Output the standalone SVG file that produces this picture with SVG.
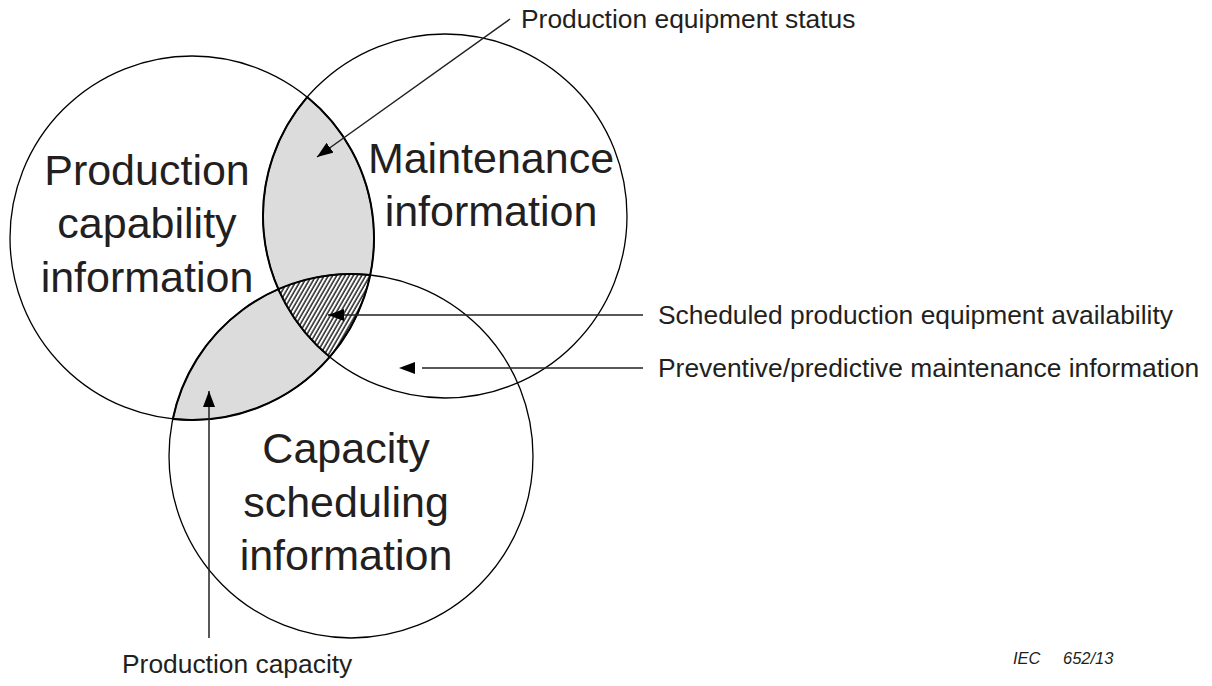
<svg xmlns="http://www.w3.org/2000/svg" width="1212" height="686" viewBox="0 0 1212 686">
<style>
.big{font-family:"Liberation Sans",Arial,sans-serif;font-size:43px;fill:#231f20;text-anchor:middle}
.lbl{font-family:"Liberation Sans",Arial,sans-serif;font-size:26.4px;fill:#231f20}
.iec{font-family:"Liberation Sans",Arial,sans-serif;font-size:16.5px;font-style:italic;fill:#231f20}
.circ{fill:none;stroke:#000;stroke-width:1.3}
.edge{fill:none;stroke:#000;stroke-width:2}
.con{fill:none;stroke:#231f20;stroke-width:1.5}
</style>
<defs>
<pattern id="hatch" patternUnits="userSpaceOnUse" width="3.6" height="10" patternTransform="rotate(30)">
<line x1="1" y1="0" x2="1" y2="10" stroke="#000" stroke-width="1.3"/>
</pattern>
<marker id="ah" markerUnits="userSpaceOnUse" markerWidth="16" markerHeight="12" refX="16" refY="6" orient="auto">
<path d="M0,0 L16,6 L0,12 z" fill="#000"/>
</marker>
</defs>
<g id="regions">
<path id="lens-lm" d="M307.2,97.1 A182,182 0 0,1 370.2,275 A182,182 0 0,0 278.4,289.1 A182,182 0 0,1 307.2,97.1 Z" fill="#dcdcdc"/>
<path id="lens-lb" d="M172.8,419 A182,182 0 0,1 278.4,289.1 A182,182 0 0,0 329.8,356.9 A182,182 0 0,1 172.8,419 Z" fill="#dcdcdc"/>
<path id="triple" d="M278.4,289.1 A182,182 0 0,1 370.2,275 A182,182 0 0,1 329.8,356.9 A182,182 0 0,1 278.4,289.1 Z" fill="url(#hatch)"/>
</g>
<g id="node-production-capability">
<circle class="circ" cx="192" cy="238" r="182"/>
<text class="big" x="147" y="185">Production</text>
<text class="big" x="147" y="238">capability</text>
<text class="big" x="147" y="292">information</text>
</g>
<g id="node-maintenance">
<circle class="circ" cx="445" cy="216" r="182"/>
<text class="big" x="491" y="173">Maintenance</text>
<text class="big" x="491" y="226">information</text>
</g>
<g id="node-capacity-scheduling">
<circle class="circ" cx="351" cy="456" r="182"/>
<text class="big" x="346" y="463">Capacity</text>
<text class="big" x="346" y="517">scheduling</text>
<text class="big" x="346" y="570">information</text>
</g>
<g id="region-edges">
<path class="edge" d="M307.2,97.1 A182,182 0 0,1 329.8,356.9 A182,182 0 0,1 172.8,419"/>
<path class="edge" d="M307.2,97.1 A182,182 0 0,0 329.8,356.9"/>
<path class="edge" d="M172.8,419 A182,182 0 0,1 370.2,275"/>
</g>
<g id="connectors">
<line class="con" x1="510" y1="19" x2="317" y2="157" marker-end="url(#ah)"/>
<line class="con" x1="643" y1="315" x2="328" y2="315" marker-end="url(#ah)"/>
<line class="con" x1="643" y1="368" x2="422" y2="368"/>
<path d="M415,362 L399,368 L415,374 z" fill="#000"/>
<line class="con" x1="209" y1="638" x2="209" y2="391" marker-end="url(#ah)"/>
</g>
<g id="labels">
<text class="lbl" x="521" y="28">Production equipment status</text>
<text class="lbl" x="658" y="324">Scheduled production equipment availability</text>
<text class="lbl" x="658" y="377">Preventive/predictive maintenance information</text>
<text class="lbl" x="122" y="673">Production capacity</text>
<text class="iec" x="1013" y="664">IEC</text>
<text class="iec" x="1063" y="664">652/13</text>
</g>
</svg>
